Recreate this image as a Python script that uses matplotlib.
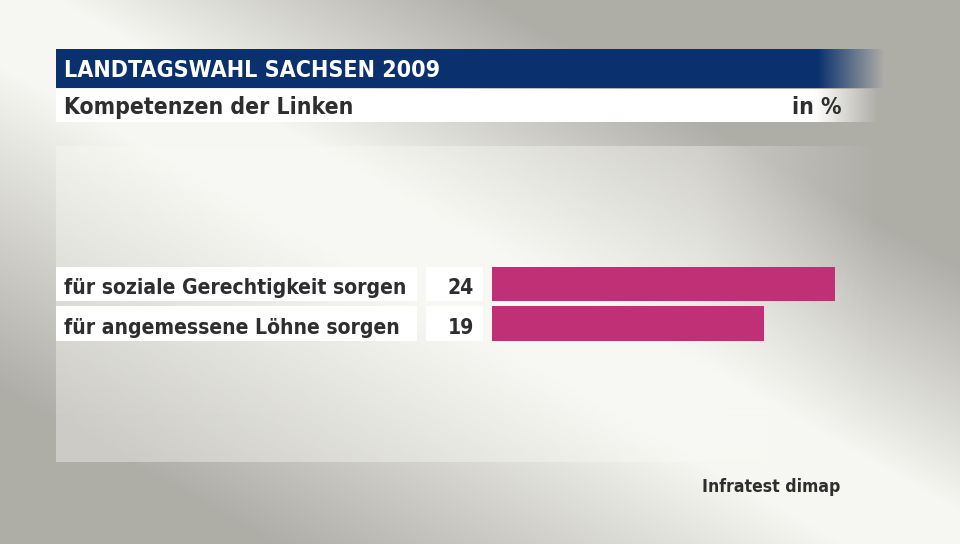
import os
import numpy as np
import matplotlib
matplotlib.use("Agg")
import matplotlib.pyplot as plt
from matplotlib import font_manager as fm
from matplotlib.transforms import blended_transform_factory, offset_copy
from matplotlib.patches import Rectangle

# ---- data ----
categories = ["für soziale Gerechtigkeit sorgen", "für angemessene Löhne sorgen"]
values = [24, 19]
title = "LANDTAGSWAHL SACHSEN 2009"
subtitle = "Kompetenzen der Linken"
unit_label = "in %"
source = "Infratest dimap"

TXT = "#2e2e2e"
BAR = "#bf3077"
BLUE = np.array([10, 49, 110]) / 255


def pick_font():
    fl = fm.fontManager.ttflist
    base = lambda f: os.path.basename(f.fname)
    prefs = [
        lambda f: f.name == "Liberation Sans Narrow" and f.weight == 700 and f.style == "normal",
        lambda f: base(f) == "NotoSans-SemiCondensedBold.ttf",
        lambda f: base(f) == "DejaVuSansCondensed-Bold.ttf",
        lambda f: base(f) == "NotoSans-CondensedBold.ttf",
        lambda f: f.name == "Liberation Sans" and f.weight == 700 and f.style == "normal",
    ]
    for p in prefs:
        for f in fl:
            try:
                if p(f):
                    return f.fname
            except Exception:
                pass
    return None


FPATH = pick_font()

W, H = 960, 544
fig = plt.figure(figsize=(9.6, 5.44), dpi=100)
bg = fig.add_axes([0, 0, 1, 1])
bg.set_xlim(0, W)
bg.set_ylim(H, 0)
bg.axis("off")
renderer = fig.canvas.get_renderer()


def fprop(size):
    if FPATH:
        return fm.FontProperties(fname=FPATH, size=size)
    return fm.FontProperties(family="DejaVu Sans", weight="bold", size=size)


def fit_size(text, target_w, base=16.0):
    t = fig.text(0, 0, text, fontproperties=fprop(base))
    w = t.get_window_extent(renderer=renderer).width
    t.remove()
    return base * target_w / w


# background gradient
yy, xx = np.mgrid[0:H, 0:W] + 0.5
u = xx / W - yy / H
t = np.where(u > 0, (u - 0.06) / 0.45, (-u - 0.12) / 0.6)
t = np.clip(t, 0, 1)
light = np.array([246, 246, 242]) / 255
dark = np.array([174, 173, 166]) / 255
img = light + (dark - light) * t[..., None]
bg.imshow(img, extent=[0, W, H, 0], aspect="auto", zorder=0, interpolation="bilinear")


def grad_rect(x0, x1, y0, y1, color, fade0, fade1, amax=1.0, z=1):
    n = int(x1 - x0)
    xs = np.arange(n) + x0 + 0.5
    a = np.clip((fade1 - xs) / (fade1 - fade0), 0, 1) * amax
    rgba = np.zeros((1, n, 4))
    rgba[0, :, :3] = color
    rgba[0, :, 3] = a
    bg.imshow(rgba, extent=[x0, x1, y1, y0], aspect="auto", zorder=z, interpolation="bilinear")


# light panel
grad_rect(56, 880, 146, 462, np.array([250, 250, 246]) / 255, 700, 880, amax=0.4, z=1)
# title bar
grad_rect(56, 884, 49, 88, BLUE, 818, 884, z=2)
# subtitle box
grad_rect(56, 884, 89, 122, np.array([1, 1, 1]), 815, 878, z=2)

s_title = fit_size(title, 377)
s_sub = fit_size(subtitle, 289)
s_src = fit_size(source, 139)
s_lab = fit_size(categories[0], 342)

bg.text(64, 77, title, color="white", fontproperties=fprop(s_title),
        ha="left", va="baseline", zorder=5)
bg.text(64, 114, subtitle, color=TXT, fontproperties=fprop(s_sub),
        ha="left", va="baseline", zorder=5)
bg.text(841, 114, unit_label, color=TXT, fontproperties=fprop(s_sub),
        ha="right", va="baseline", zorder=5)
bg.text(840, 492.5, source, color=TXT, fontproperties=fprop(s_src),
        ha="right", va="baseline", zorder=5)

# bar axes
px_per_unit = 343 / 24
row_sp = 39.7
top = 284 - row_sp
bot = 284 + row_sp * 2
ax_left, ax_right = 492, 880
ax = fig.add_axes([ax_left / W, 1 - bot / H, (ax_right - ax_left) / W, (bot - top) / H])
ax.set_xlim(0, (ax_right - ax_left) / px_per_unit)
ax.set_ylim(2, -1)
ax.axis("off")
ax.patch.set_alpha(0)

pos = np.arange(len(categories))
bh = 0.87
ax.barh(pos, values, height=bh, color=BAR, zorder=3)

tr = blended_transform_factory(bg.transData, ax.transData)
tr_txt = offset_copy(tr, fig=fig, x=0, y=-10, units="dots")
for i, (c, v) in enumerate(zip(categories, values)):
    ax.add_patch(Rectangle((56, i - bh / 2), 361, bh, transform=tr, facecolor="white",
                           edgecolor="none", zorder=2, clip_on=False))
    ax.add_patch(Rectangle((426, i - bh / 2), 57, bh, transform=tr, facecolor="white",
                           edgecolor="none", zorder=2, clip_on=False))
    ax.text(64, i, c, transform=tr_txt, color=TXT, fontproperties=fprop(s_lab),
            ha="left", va="baseline", zorder=4, clip_on=False)
    ax.text(474, i, f"{v}", transform=tr_txt, color=TXT, fontproperties=fprop(s_lab),
            ha="right", va="baseline", zorder=4, clip_on=False)

fig.savefig("out.png", dpi=100)
